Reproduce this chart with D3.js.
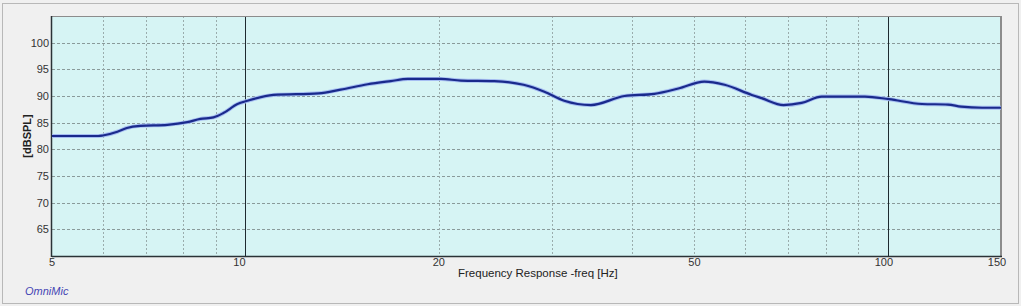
<!DOCTYPE html>
<html>
<head>
<meta charset="utf-8">
<script src="https://cdn.jsdelivr.net/npm/d3@7"></script>
<style>
  html, body { margin: 0; padding: 0; background: #f0f0f0; }
  svg text { font-family: "Liberation Sans", Arial, sans-serif; }
</style>
</head>
<body>
<svg id="chart" width="1021" height="306"></svg>
<script>
const freqHz = [5, 5.9, 6.0, 6.32, 6.54, 6.86, 7.56, 8.12, 8.51, 8.92, 9.24, 9.72, 10.07, 11.06, 13.0, 14.07,
  15.5, 16.84, 17.9, 20.15, 21.65, 24.4, 27.1, 29.2, 31.35, 34.5, 38.9, 43.3, 47.2, 51.8, 55.7,
  61.4, 63.6, 68.8, 73.4, 78.9, 92.1, 100.4, 113, 124, 130, 140.2, 150];
const splDb = [82.5, 82.5, 82.6, 83.3, 84.0, 84.4, 84.6, 85.1, 85.7, 86.0, 86.8, 88.5, 89.1, 90.2, 90.5, 91.2,
  92.2, 92.8, 93.2, 93.2, 92.9, 92.8, 92.1, 90.8, 89.1, 88.3, 90.0, 90.4, 91.4, 92.7, 92.1,
  90.2, 89.6, 88.3, 88.7, 89.9, 89.9, 89.4, 88.5, 88.4, 88.0, 87.8, 87.8];

const xTickValues = [5, 10, 20, 50, 100, 150];
const yTickValues = [65, 70, 75, 80, 85, 90, 95, 100];
const xMinorGrid = [6, 7, 8, 9, 20, 30, 40, 50, 60, 70, 80, 90];
const xMajorGrid = [10, 100];

const svg = d3.select("#chart");
const W = 1021, H = 306;
const pLeft = 52, pRight = 1001, pTop = 16, pBottom = 256;

// outer frame
svg.append("rect").attr("x", 2.5).attr("y", 3.5).attr("width", W - 5).attr("height", H - 6)
  .attr("fill", "#f0f0f0").attr("stroke", "#b8b8b8");

const x = d3.scaleLog().domain([5, 150]).range([pLeft, pRight]);
const y = d3.scaleLinear().domain([60, 105]).range([pBottom, pTop]);

svg.append("rect").attr("x", pLeft).attr("y", pTop).attr("width", pRight - pLeft).attr("height", pBottom - pTop)
  .attr("fill", "#d6f4f4");

// grid
svg.append("g").selectAll("line").data(yTickValues).join("line")
  .attr("x1", pLeft).attr("x2", pRight)
  .attr("y1", d => Math.round(y(d)) + 0.5).attr("y2", d => Math.round(y(d)) + 0.5)
  .attr("stroke", "#8a9a9a").attr("stroke-dasharray", "3,2");

svg.append("g").selectAll("line").data(xMinorGrid).join("line")
  .attr("x1", d => Math.round(x(d)) + 0.5).attr("x2", d => Math.round(x(d)) + 0.5)
  .attr("y1", pTop).attr("y2", pBottom)
  .attr("stroke", "#9aacac").attr("stroke-dasharray", "2,2");

svg.append("g").selectAll("line").data(xMajorGrid).join("line")
  .attr("x1", d => Math.round(x(d)) + 0.5).attr("x2", d => Math.round(x(d)) + 0.5)
  .attr("y1", pTop).attr("y2", pBottom)
  .attr("stroke", "#1e2a30").attr("stroke-width", 1);

// plot borders
svg.append("line").attr("x1", pLeft).attr("x2", pRight).attr("y1", pTop + 0.5).attr("y2", pTop + 0.5)
  .attr("stroke", "#8c8c8c");
svg.append("line").attr("x1", pRight).attr("x2", pRight).attr("y1", pTop).attr("y2", pBottom)
  .attr("stroke", "#8c8c8c").attr("stroke-width", 2);
svg.append("line").attr("x1", pLeft - 0.5).attr("x2", pLeft - 0.5).attr("y1", pTop).attr("y2", pBottom + 1)
  .attr("stroke", "#2a3236").attr("stroke-width", 1.5);
svg.append("line").attr("x1", pLeft).attr("x2", pRight + 1).attr("y1", pBottom + 0.5).attr("y2", pBottom + 0.5)
  .attr("stroke", "#2a3236").attr("stroke-width", 1.5);

// curve
const line = d3.line().x((d, i) => x(freqHz[i])).y(d => y(d)).curve(d3.curveMonotoneX);
svg.append("path").attr("d", line(splDb)).attr("fill", "none")
  .attr("stroke", "#a6bef2").attr("stroke-width", 4).attr("stroke-linejoin", "round");
svg.append("path").attr("d", line(splDb)).attr("fill", "none")
  .attr("stroke", "#1a2a8c").attr("stroke-width", 2.2).attr("stroke-linejoin", "round");

// tick labels
svg.append("g").selectAll("text").data(yTickValues).join("text")
  .attr("x", 49).attr("y", d => y(d)).attr("dy", "0.35em")
  .attr("text-anchor", "end").attr("font-size", 11).attr("fill", "#333")
  .text(d => d);

svg.append("g").selectAll("text").data(xTickValues).join("text")
  .attr("x", d => x(d) - (d >= 10 && d < 20 ? 6 : d >= 100 ? 4 : 0)).attr("y", 266)
  .attr("text-anchor", "middle").attr("font-size", 11).attr("fill", "#333")
  .text(d => d);

svg.append("text").attr("x", 458).attr("y", 277).attr("text-anchor", "start")
  .attr("font-size", 11.5).attr("fill", "#222").text("Frequency Response -freq [Hz]");

svg.append("text").attr("transform", "translate(31,136) rotate(-90)").attr("text-anchor", "middle")
  .attr("font-size", 11).attr("font-weight", "bold").attr("fill", "#222").text("[dBSPL]");

svg.append("text").attr("x", 25).attr("y", 295).attr("font-size", 11).attr("font-style", "italic")
  .attr("fill", "#4646b4").text("OmniMic");
</script>
</body>
</html>
